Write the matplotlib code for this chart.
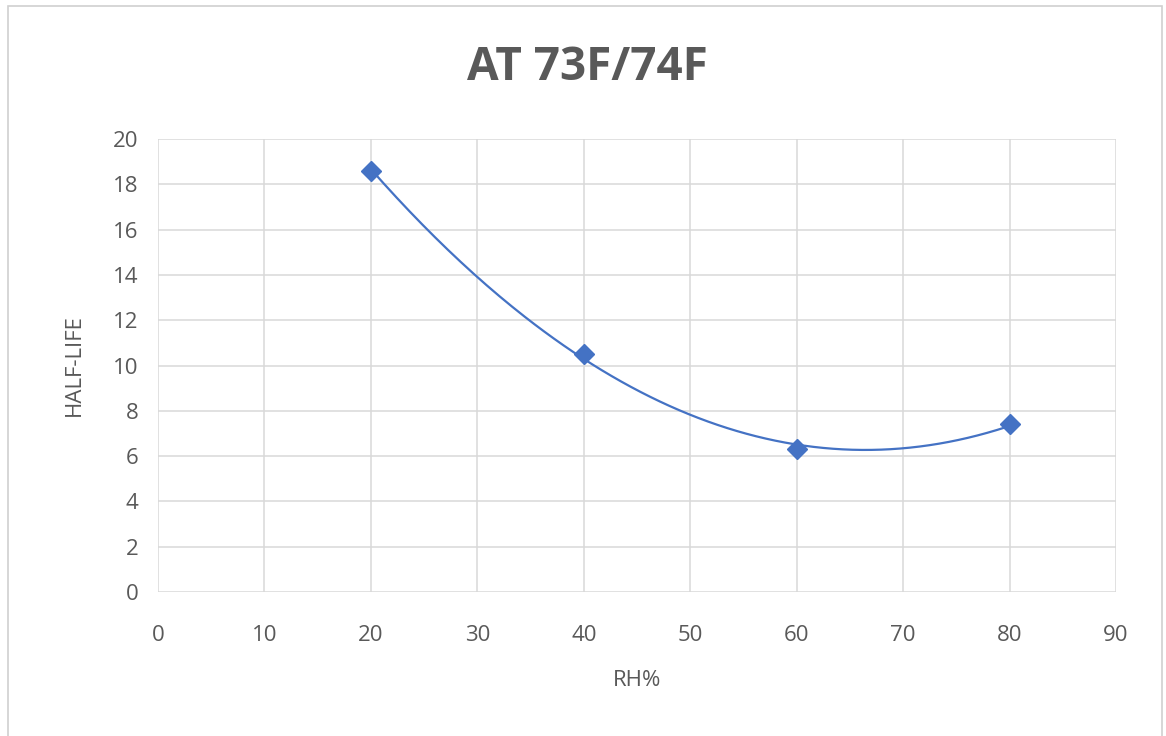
import numpy as np
import matplotlib
matplotlib.use("Agg")
import matplotlib.pyplot as plt
from matplotlib.patches import Rectangle

# data
rh = [20, 40, 60, 80]
half_life = [18.6, 10.5, 6.3, 7.4]
x_ticks = [0, 10, 20, 30, 40, 50, 60, 70, 80, 90]
y_ticks = [0, 2, 4, 6, 8, 10, 12, 14, 16, 18, 20]

BLUE = "#4472C4"
GREY = "#595959"
GRID = "#D9D9D9"

plt.rcParams["font.family"] = ["Open Sans", "DejaVu Sans"]

fig = plt.figure(figsize=(11.66, 7.36), dpi=100)
# chart frame like the Excel chart area
fig.patches.append(Rectangle((8 / 1166, -0.01), 1154 / 1166, 1 - 6 / 736 + 0.01,
                             transform=fig.transFigure, fill=False,
                             edgecolor="#D0D0D0", lw=1.2))

ax = fig.add_axes([158 / 1166, 1 - 592 / 736, (1116 - 158) / 1166, (592 - 139) / 736])

# order-2 polynomial trendline through the points
coef = np.polyfit(rh, half_life, 2)
xs = np.linspace(min(rh), max(rh), 200)
ax.plot(xs, np.polyval(coef, xs), color=BLUE, lw=1.6, zorder=3)
ax.plot(rh, half_life, linestyle="none", marker="D", ms=10, color=BLUE, zorder=4)

ax.set_xlim(0, 90)
ax.set_ylim(0, 20)
ax.set_xticks(x_ticks)
ax.set_yticks(y_ticks)
ax.grid(True, color=GRID, lw=1.1)
ax.set_axisbelow(True)
for s in ax.spines.values():
    s.set_visible(False)
ax.tick_params(length=0, labelsize=16, labelcolor=GREY)
ax.tick_params(axis="x", pad=24)
ax.tick_params(axis="y", pad=14)

ax.set_xlabel("RH%", fontsize=16, color=GREY, labelpad=17)
ax.set_ylabel("HALF-LIFE", fontsize=16, color=GREY, labelpad=20)
fig.text(587 / 1166, 1 - 68 / 736, "AT 73F/74F", ha="center", va="center",
         fontsize=33, fontweight="bold", color=GREY)

fig.savefig("out.png", dpi=100)
